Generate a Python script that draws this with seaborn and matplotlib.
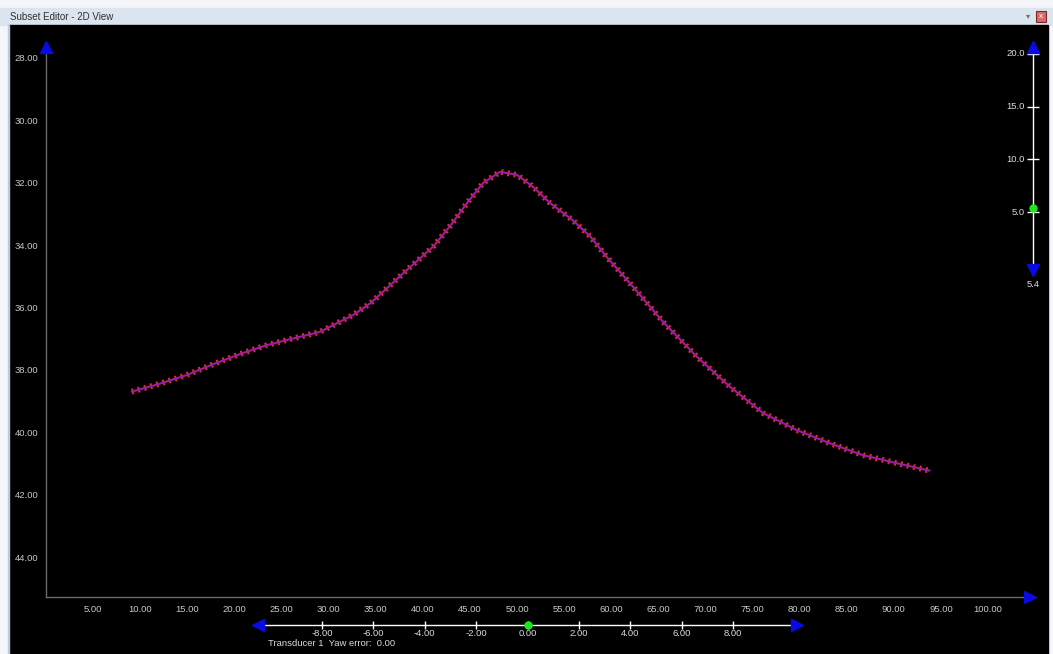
import numpy as np
import pandas as pd
import matplotlib
matplotlib.use("Agg")
import matplotlib.pyplot as plt
import seaborn as sns
from matplotlib.patches import Rectangle

dist = [9.1, 12.0, 14.9, 17.9, 20.9, 23.3, 25.6, 29.1, 32.6, 34.5, 36.2, 38.3, 41.1,
        43.0, 44.7, 46.4, 48.2, 50.0, 51.7, 53.5, 55.9, 57.8, 59.5, 62.3, 65.5,
        69.1, 72.6, 76.1, 79.7, 83.2, 86.7, 90.3, 93.8]
depth = [38.70, 38.45, 38.17, 37.80, 37.46, 37.22, 37.04, 36.78, 36.24, 35.85, 35.38,
         34.80, 34.05, 33.35, 32.65, 32.01, 31.65, 31.75, 32.13, 32.65, 33.20,
         33.73, 34.37, 35.33, 36.46, 37.58, 38.54, 39.38, 39.93, 40.35, 40.73,
         40.99, 41.23]

x_ticks = [5, 10, 15, 20, 25, 30, 35, 40, 45, 50, 55, 60, 65, 70, 75, 80, 85, 90, 95, 100]
y_ticks = [28, 30, 32, 34, 36, 38, 40, 42, 44]

yaw_ticks = [-8, -6, -4, -2, 0, 2, 4, 6, 8]
yaw_value = 0.0
range_ticks = [20, 15, 10, 5]
range_value = 5.4

df = pd.DataFrame({"dist": dist, "depth": depth})

sns.set_style("dark")
plt.rcParams["font.family"] = ["Liberation Sans", "DejaVu Sans"]

W, H = 1053, 654
fig = plt.figure(figsize=(W / 100, H / 100), dpi=100, facecolor="white")

def px(x0, y0, w, h):
    # pixel box (top-left origin) -> figure fraction
    return [x0 / W, (H - y0 - h) / H, w / W, h / H]

# window chrome
fig.patches.append(Rectangle((0, 0), 1, 1, transform=fig.transFigure, color="#f4f6f9", zorder=-10))
b = px(0, 8, W, 17)
fig.patches.append(Rectangle(b[:2], b[2], b[3], transform=fig.transFigure, color="#dbe5f0", zorder=-9))
b = px(9, 25, 1039, 629)
fig.patches.append(Rectangle(b[:2], b[2], b[3], transform=fig.transFigure, color="black", zorder=-8))
b = px(8, 25, 1, 629)
fig.patches.append(Rectangle(b[:2], b[2], b[3], transform=fig.transFigure, color="#b9cbe0", zorder=-8))
fig.text(10 / W, 1 - 17 / H, "Subset Editor - 2D View", fontsize=7, color="#303030", va="center")
b = px(1036, 11, 10, 11)
fig.patches.append(Rectangle(b[:2], b[2], b[3], transform=fig.transFigure, facecolor="#d86a6a",
                             edgecolor="#7a2a2a", lw=0.8, zorder=5))
fig.text(1041 / W, 1 - 16.5 / H, "x", fontsize=6, color="white", ha="center", va="center", zorder=6)
fig.text(1028 / W, 1 - 17 / H, "\u25be", fontsize=6, color="#707070", ha="center", va="center")

BLUE = "#0a0ae6"
GREEN = "#1ee61e"
LABEL = "#dcdcdc"

# main plot
ax = fig.add_axes(px(46, 47, 984, 550))
ax.set_facecolor("none")
sns.lineplot(data=df, x="dist", y="depth", ax=ax, sort=False, color="#e0301e", lw=4.2,
             linestyle=(0, (0.35, 0.75)), solid_capstyle="butt")
sns.lineplot(data=df, x="dist", y="depth", ax=ax, sort=False, color="#9c1ca4", lw=1.5)
ax.set_xlim(0, 104.46)
ax.set_ylim(45.28, 27.65)
ax.set_xticks(x_ticks)
ax.set_yticks(y_ticks)
ax.set_xticklabels([f"{v:.2f}" for v in x_ticks])
ax.set_yticklabels([f"{v:.2f}" for v in y_ticks])
ax.set_xlabel("")
ax.set_ylabel("")
ax.grid(False)
for s in ["top", "right"]:
    ax.spines[s].set_visible(False)
for s in ["left", "bottom"]:
    ax.spines[s].set_visible(True)
    ax.spines[s].set_color("#6a6a6a")
    ax.spines[s].set_linewidth(1)
ax.tick_params(direction="inout", length=8, width=1, colors="#6a6a6a", labelcolor="#c8c8c8",
               labelsize=6.8, pad=1.5)
ax.plot(0, 27.65, marker="^", ms=8, color=BLUE, clip_on=False, zorder=10)
ax.plot(104.46, 45.28, marker=">", ms=8, color=BLUE, clip_on=False, zorder=10)

# right slider
rs = fig.add_axes(px(1018, 47, 30, 223))
rs.set_facecolor("none")
rs.axis("off")
rs.set_xlim(-1, 1)
rs.set_ylim(-0.5, 20.66)
rs.plot([0, 0], [-0.5, 20.66], color="white", lw=1)
for v in range_ticks:
    rs.plot(0, v, marker="_", ms=9, mew=1, color="white")
    rs.text(-0.55, v, f"{v:.1f}", ha="right", va="center", fontsize=6.8, color=LABEL)
rs.plot(0, 20.66, marker="^", ms=8, color=BLUE, clip_on=False)
rs.plot(0, -0.5, marker="v", ms=8, color=BLUE, clip_on=False)
rs.plot(0, range_value, marker="o", ms=5, color=GREEN, clip_on=False)
rs.text(0, -1.85, f"{range_value:.1f}", ha="center", va="center", fontsize=6.8, color=LABEL)

# bottom slider
bs = fig.add_axes(px(258, 605, 539, 40))
bs.set_facecolor("none")
bs.axis("off")
bs.set_xlim(-10.49, 10.49)
bs.set_ylim(-20, 20)
bs.plot([-10.49, 10.49], [0, 0], color="white", lw=1)
for v in yaw_ticks:
    bs.plot(v, 0, marker="|", ms=6, mew=1, color="white")
    bs.text(v, -8.5, f"{v:.2f}", ha="center", va="center", fontsize=6.8, color=LABEL)
bs.plot(-10.49, 0, marker="<", ms=8, color=BLUE, clip_on=False)
bs.plot(10.49, 0, marker=">", ms=8, color=BLUE, clip_on=False)
bs.plot(yaw_value, 0, marker="o", ms=5, color=GREEN, clip_on=False)
bs.text(-10.1, -19, f"Transducer 1  Yaw error:  {yaw_value:.2f}", ha="left", va="center",
        fontsize=6.8, color=LABEL, clip_on=False)

fig.savefig("out.png", dpi=100, facecolor=fig.get_facecolor())
